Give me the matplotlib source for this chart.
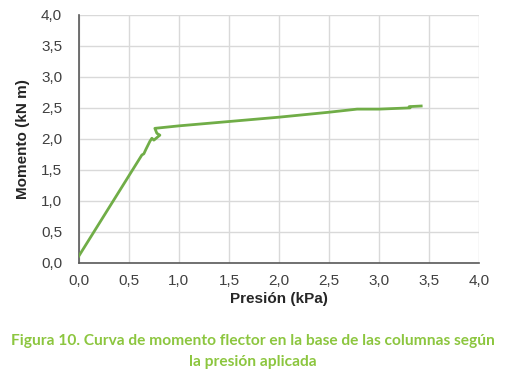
import matplotlib
matplotlib.use("Agg")
import matplotlib.pyplot as plt
from matplotlib.ticker import FuncFormatter

presion = [0.0, 0.63, 0.65, 0.67, 0.71, 0.73, 0.75, 0.81, 0.78, 0.76, 1.0, 1.5, 2.0, 2.5, 2.78, 3.0, 3.31, 3.3, 3.42]
momento = [0.11, 1.74, 1.76, 1.83, 1.96, 2.01, 1.98, 2.06, 2.09, 2.17, 2.21, 2.28, 2.35, 2.43, 2.48, 2.48, 2.50, 2.52, 2.53]

xticks = [0.0, 0.5, 1.0, 1.5, 2.0, 2.5, 3.0, 3.5, 4.0]
yticks = [0.0, 0.5, 1.0, 1.5, 2.0, 2.5, 3.0, 3.5, 4.0]
caption = "Figura 10. Curva de momento flector en la base de las columnas según\nla presión aplicada"

plt.rcParams['font.family'] = ['Liberation Sans', 'DejaVu Sans']
fig = plt.figure(figsize=(5.05, 3.8), dpi=100)
ax = fig.add_axes([0.156, 0.308, 0.793, 0.653])
ax.plot(presion, momento, color="#70AD47", lw=2.0, zorder=3)
ax.set_xlim(0, 4)
ax.set_ylim(0, 4)
ax.set_xticks(xticks)
ax.set_yticks(yticks)
fmt = FuncFormatter(lambda v, p: f"{v:.1f}".replace(".", ","))
ax.xaxis.set_major_formatter(fmt)
ax.yaxis.set_major_formatter(fmt)
ax.grid(True, color="#D9D9D9", lw=1)
ax.set_axisbelow(True)
for s in ["top", "right"]:
    ax.spines[s].set_visible(False)
for s in ["left", "bottom"]:
    ax.spines[s].set_color("#595959")
    ax.spines[s].set_linewidth(1.2)
ax.tick_params(length=0, labelsize=11, colors="#404040")
ax.tick_params(axis="y", pad=12)
ax.tick_params(axis="x", pad=8)
ax.set_xlabel("Presión (kPa)", fontsize=11, fontweight="bold", color="#262626", labelpad=3)
ax.set_ylabel("Momento (kN m)", fontsize=11, fontweight="bold", color="#262626", labelpad=8)
fig.text(0.5, 0.075, caption, ha="center", va="center", fontsize=11.2, color="#8CC63F",
         family=["Lato", "DejaVu Sans"], fontweight="bold", linespacing=1.7)
fig.savefig("out.png", dpi=100)
